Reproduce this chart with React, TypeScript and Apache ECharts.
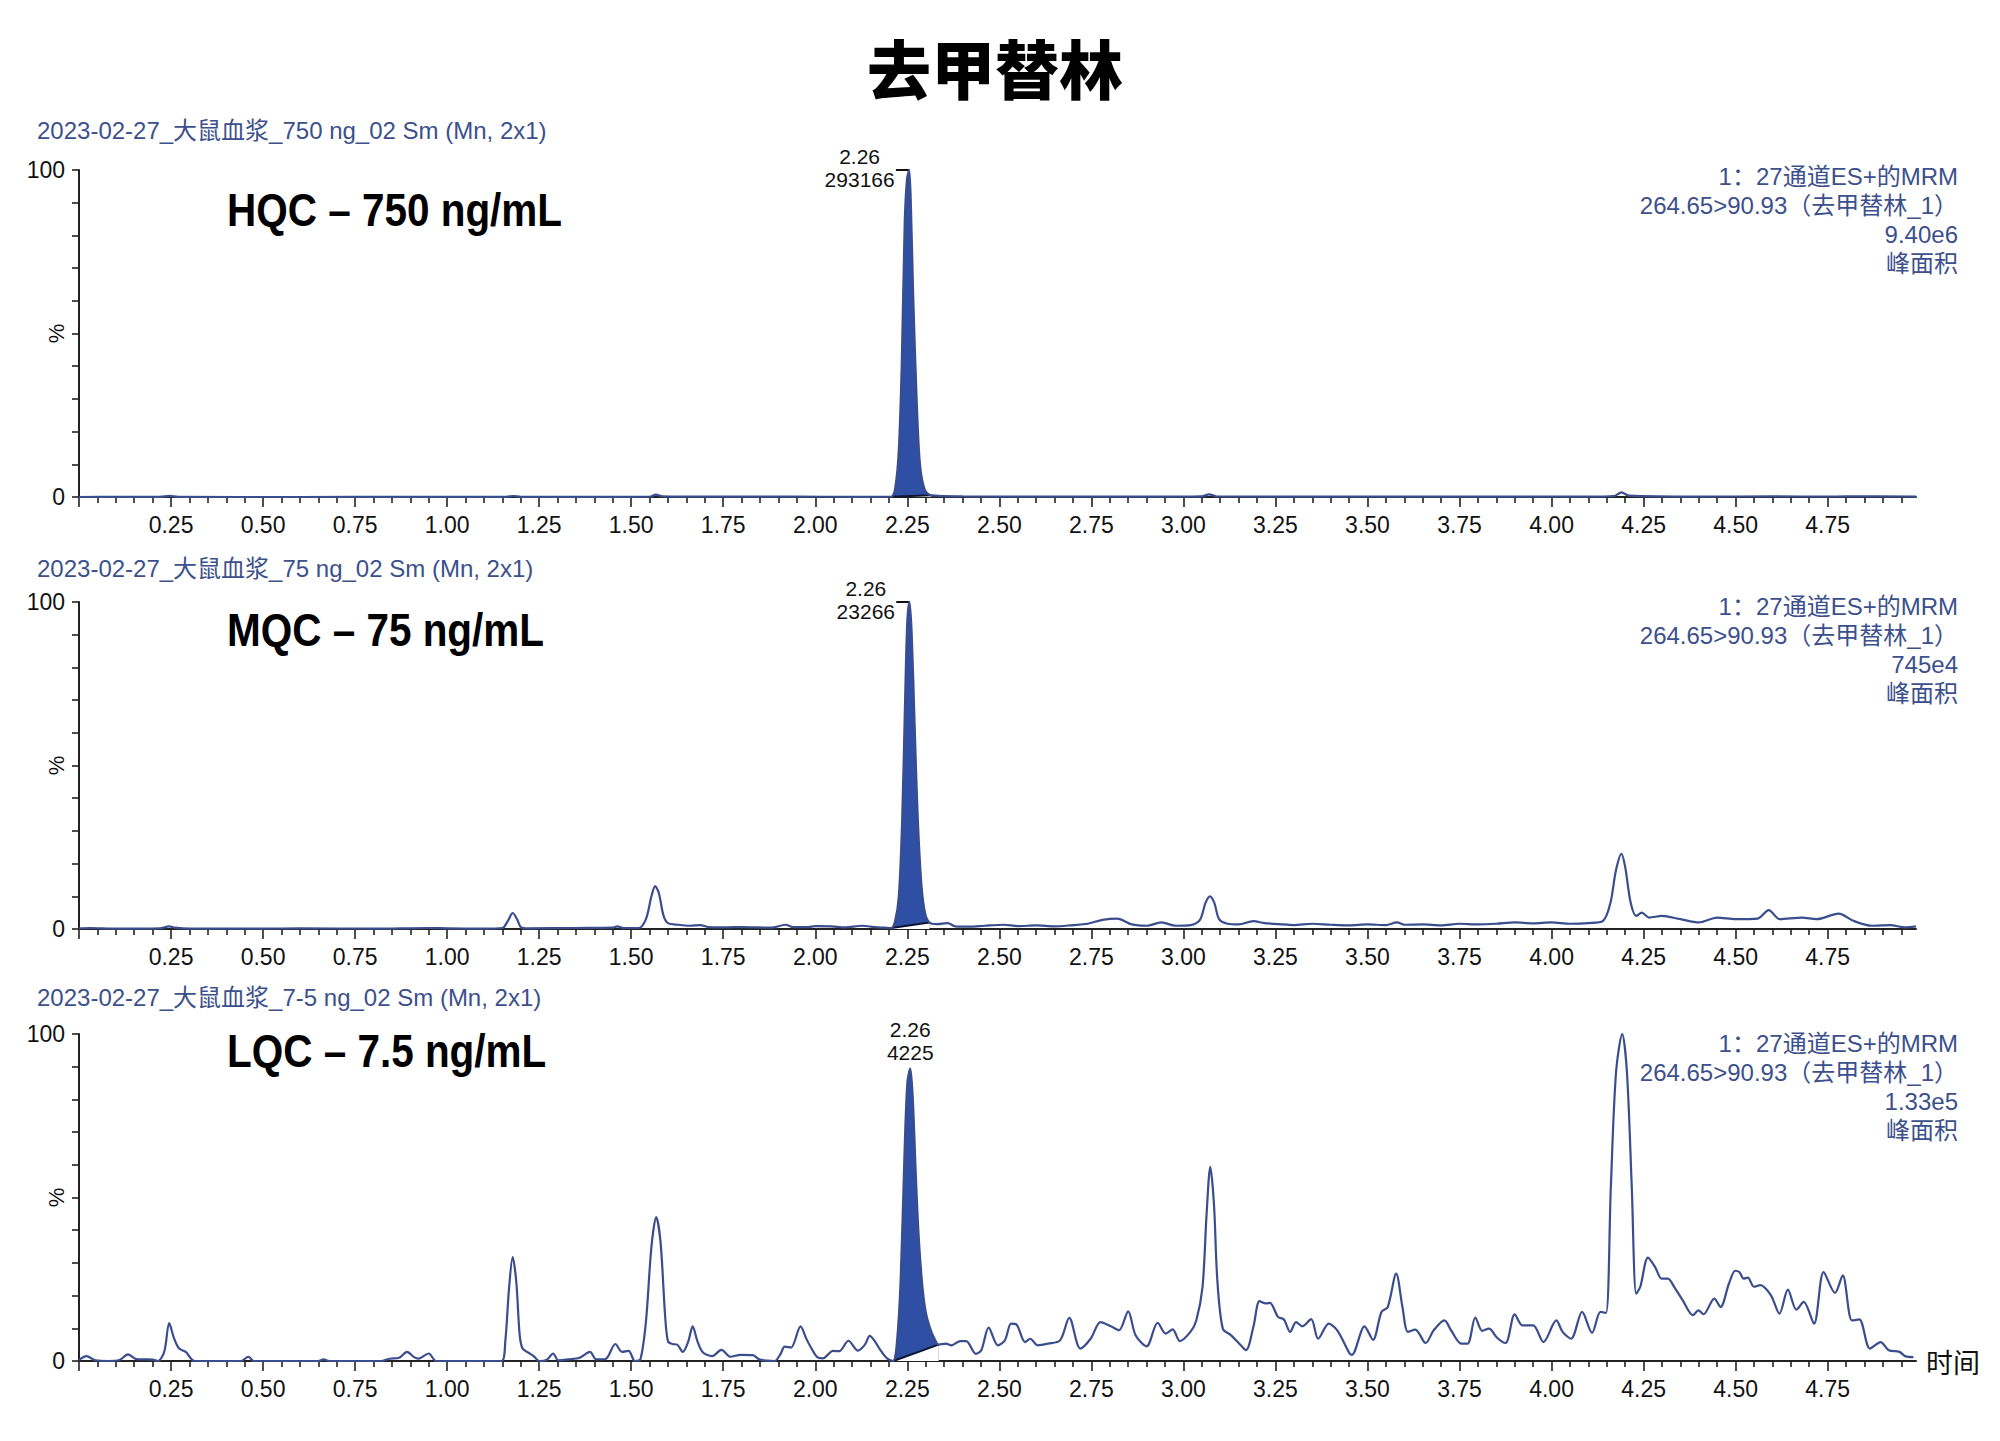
import React, { useEffect, useRef } from 'react';
import * as echarts from 'echarts';

const chartTitle = '去甲替林';
const panelHeaders = [
  '2023-02-27_大鼠血浆_750 ng_02 Sm (Mn, 2x1)',
  '2023-02-27_大鼠血浆_75 ng_02 Sm (Mn, 2x1)',
  '2023-02-27_大鼠血浆_7-5 ng_02 Sm (Mn, 2x1)',
];
const panelLabels = ['HQC – 750 ng/mL', 'MQC – 75 ng/mL', 'LQC – 7.5 ng/mL'];
const channelLine1 = '1：27通道ES+的MRM';
const channelLine2 = '264.65>90.93（去甲替林_1）';
const peakAreaTexts = ['9.40e6', '745e4', '1.33e5'];
const areaUnitText = '峰面积';
const peakRtTexts = ['2.26', '2.26', '2.26'];
const peakHeightTexts = ['293166', '23266', '4225'];
const peakWindows: [number, number][] = [
  [2.207, 2.315],
  [2.207, 2.31],
  [2.212, 2.335],
];
const xTickValues = [0.25, 0.5, 0.75, 1.0, 1.25, 1.5, 1.75, 2.0, 2.25, 2.5, 2.75, 3.0, 3.25, 3.5, 3.75, 4.0, 4.25, 4.5, 4.75];
const xAxisName = '时间';
const yAxisName = '%';

const hqcTrace: [number, number][] = [
  [0, 0], [0.1, 0.05], [0.22, 0.05], [0.245, 0.35], [0.27, 0.05], [0.6, 0], [0.9, 0.05], [1.16, 0.05],
  [1.18, 0.3], [1.2, 0.05], [1.45, 0.05], [1.55, 0.1], [1.567, 0.7], [1.585, 0.2], [1.7, 0.1], [1.95, 0.1],
  [2.1, 0.05], [2.207, 0.1], [2.218, 3.4], [2.227, 14.5], [2.235, 41], [2.243, 84], [2.249, 97], [2.255, 100],
  [2.26, 88], [2.266, 61.5], [2.275, 31], [2.284, 10.5], [2.297, 2.3], [2.315, 0.5], [2.4, 0.2], [2.6, 0.1],
  [2.9, 0.1], [3.05, 0.2], [3.07, 0.8], [3.09, 0.2], [3.4, 0.1], [3.8, 0.1], [4.1, 0.1], [4.17, 0.3],
  [4.19, 1.4], [4.21, 0.4], [4.4, 0.1], [4.6, 0.2], [4.75, 0.1], [4.8, 0.2], [4.99, 0.1],
];

const mqcTrace: [number, number][] = [
  [0, 0.2], [0.03, 0.3], [0.1, 0.1], [0.22, 0.2], [0.245, 0.8], [0.26, 0.4], [0.3, 0.1], [0.5, 0.1],
  [0.6, 0.2], [0.8, 0.1], [0.95, 0.3], [1.0, 0.2], [1.1, 0.1], [1.15, 0.3], [1.165, 2.5], [1.178, 4.9],
  [1.19, 3], [1.2, 0.6], [1.22, 0.2], [1.35, 0.3], [1.45, 0.4], [1.462, 0.8], [1.48, 0.3], [1.52, 0.3],
  [1.54, 3], [1.555, 10], [1.565, 13.1], [1.575, 11], [1.588, 4], [1.6, 1.8], [1.628, 1.3], [1.66, 1.0],
  [1.687, 1.2], [1.71, 0.6], [1.76, 0.5], [1.8, 0.6], [1.88, 0.4], [1.92, 1.3], [1.94, 0.6], [1.98, 0.6],
  [2.0, 0.9], [2.045, 0.8], [2.08, 0.5], [2.128, 1.0], [2.16, 0.6], [2.19, 0.4], [2.207, 0.3], [2.217, 2.5],
  [2.227, 10], [2.236, 33], [2.244, 70], [2.25, 94], [2.256, 100], [2.262, 90], [2.27, 62], [2.278, 35],
  [2.288, 14], [2.298, 5], [2.31, 2], [2.33, 1.5], [2.36, 1.8], [2.38, 0.8], [2.42, 0.7], [2.46, 1],
  [2.512, 1.3], [2.55, 0.9], [2.6, 1.1], [2.65, 0.8], [2.7, 1.2], [2.74, 1.6], [2.78, 2.8], [2.82, 3.2],
  [2.86, 1.4], [2.9, 1.0], [2.94, 2.0], [2.98, 1.0], [3.02, 1.2], [3.045, 2.8], [3.06, 8], [3.072, 10],
  [3.084, 8], [3.097, 3], [3.12, 1.6], [3.15, 1.4], [3.19, 2.4], [3.22, 1.8], [3.26, 1.5], [3.3, 1.2],
  [3.35, 1.6], [3.4, 1.3], [3.45, 1.1], [3.5, 1.4], [3.55, 1.2], [3.58, 2.0], [3.6, 1.3], [3.65, 1.4],
  [3.7, 1.1], [3.75, 1.6], [3.8, 1.4], [3.85, 1.6], [3.9, 2.0], [3.95, 1.7], [4.0, 2.0], [4.05, 1.6],
  [4.1, 1.8], [4.14, 2.5], [4.16, 8], [4.175, 18], [4.19, 23], [4.2, 19], [4.215, 8], [4.23, 4],
  [4.245, 5], [4.265, 3.5], [4.3, 4], [4.35, 3], [4.4, 2], [4.45, 3.5], [4.5, 3], [4.56, 3.2],
  [4.59, 5.8], [4.62, 3], [4.68, 3.5], [4.72, 3], [4.78, 4.7], [4.82, 2.5], [4.87, 1], [4.92, 1.2],
  [4.96, 0.5], [4.99, 0.8],
];

const lqcTrace: [number, number][] = [
  [0.0, 0.3], [0.02, 1.5], [0.045, 0.2], [0.08, 0], [0.11, 0.3], [0.133, 2.0], [0.155, 0.6], [0.18, 0.5],
  [0.2, 0.4], [0.215, 0], [0.232, 3], [0.245, 11.6], [0.258, 7], [0.272, 3.8], [0.29, 2.8], [0.314, 0],
  [0.44, 0], [0.46, 1.3], [0.475, 0], [0.65, 0], [0.664, 0.5], [0.68, 0], [0.82, 0], [0.843, 0.7],
  [0.87, 1.0], [0.891, 2.8], [0.91, 1.2], [0.922, 0.7], [0.95, 2.3], [0.97, 0], [1.1, 0], [1.148, 0],
  [1.158, 6], [1.168, 22], [1.178, 31.8], [1.188, 24], [1.197, 8], [1.205, 3.8], [1.22, 2.6], [1.235, 1.5],
  [1.25, 0], [1.27, 0.3], [1.288, 2.3], [1.302, 0.2], [1.33, 0.5], [1.36, 1.0], [1.388, 2.8], [1.405, 0.5],
  [1.43, 0.6], [1.457, 5.2], [1.475, 2.8], [1.493, 3.1], [1.51, 0], [1.525, 0.5], [1.54, 12], [1.555, 35],
  [1.568, 44], [1.58, 36], [1.592, 14], [1.6, 6], [1.612, 5.2], [1.625, 5], [1.64, 2.8], [1.655, 6],
  [1.667, 10.6], [1.68, 6], [1.695, 2.6], [1.72, 1.5], [1.745, 3.4], [1.77, 1.3], [1.797, 1.9], [1.83, 1.8],
  [1.848, 0.5], [1.87, 0.1], [1.89, 0], [1.905, 2], [1.917, 4.4], [1.934, 4.1], [1.96, 10.6], [1.975, 7],
  [1.986, 4.6], [2.005, 1.2], [2.021, 0.8], [2.035, 2], [2.047, 3.1], [2.065, 3], [2.09, 6.2], [2.116, 3.2],
  [2.135, 5], [2.148, 7.7], [2.162, 6], [2.176, 3.5], [2.195, 0.8], [2.212, 0], [2.222, 6], [2.232, 25],
  [2.242, 62], [2.25, 85], [2.258, 89.5], [2.265, 80], [2.272, 60], [2.28, 40], [2.29, 24], [2.3, 15],
  [2.312, 10], [2.323, 7], [2.335, 5], [2.355, 5.3], [2.37, 4.8], [2.394, 6.1], [2.41, 6.1], [2.436, 2.2],
  [2.451, 3.3], [2.471, 10.2], [2.496, 4.8], [2.515, 6.3], [2.532, 11.4], [2.546, 11.2], [2.57, 5.8], [2.584, 6.8],
  [2.604, 4.8], [2.632, 5.3], [2.665, 6.3], [2.69, 13.2], [2.72, 3.8], [2.748, 6.8], [2.775, 11.9], [2.803, 10.6],
  [2.825, 9.4], [2.85, 15.2], [2.87, 7.9], [2.9, 4.5], [2.93, 11.7], [2.952, 8.4], [2.971, 9.7], [2.99, 6.1],
  [3.019, 8.9], [3.035, 12.4], [3.052, 22.7], [3.063, 45], [3.073, 59.4], [3.083, 48], [3.092, 25], [3.107, 9.9],
  [3.129, 7.9], [3.152, 5.3], [3.17, 3.3], [3.19, 10.4], [3.207, 18.3], [3.224, 17.6], [3.235, 17.8], [3.257, 13.5],
  [3.273, 12.7], [3.29, 8.9], [3.306, 11.9], [3.323, 10.6], [3.347, 12.8], [3.366, 6.8], [3.395, 11.4], [3.418, 9.4],
  [3.452, 2.2], [3.458, 1.9], [3.492, 10.6], [3.515, 6.5], [3.538, 15], [3.555, 16.5], [3.578, 26.7], [3.595, 16.5],
  [3.61, 8.9], [3.63, 9.6], [3.658, 5.5], [3.68, 9.4], [3.709, 12.4], [3.727, 9.4], [3.755, 5.3], [3.772, 5.3],
  [3.793, 13.3], [3.812, 9.2], [3.83, 9.9], [3.852, 7.1], [3.875, 5.5], [3.9, 14.3], [3.921, 10.9], [3.95, 10.9],
  [3.978, 5.8], [4.013, 12.4], [4.03, 8.9], [4.053, 6.8], [4.083, 15], [4.11, 8.6], [4.133, 15], [4.148, 14.7],
  [4.161, 53], [4.175, 88], [4.192, 100], [4.205, 88], [4.218, 53], [4.23, 20.6], [4.241, 22.7], [4.262, 31.6],
  [4.281, 28.8], [4.299, 25.2], [4.316, 25.2], [4.333, 22.7], [4.356, 18.6], [4.384, 14], [4.399, 15.5], [4.413, 14.3],
  [4.442, 19.1], [4.459, 16.5], [4.482, 23.7], [4.499, 27.6], [4.51, 27.2], [4.522, 25.2], [4.533, 25.5], [4.55, 22.7],
  [4.567, 23.2], [4.596, 20.1], [4.619, 14.5], [4.642, 21.8], [4.665, 15.7], [4.685, 18.1], [4.713, 11.4], [4.739, 27.2],
  [4.77, 20.8], [4.791, 26.2], [4.816, 12.4], [4.836, 12.7], [4.865, 3.8], [4.894, 5.8], [4.916, 3.3], [4.945, 2.8],
  [4.962, 1.4], [4.983, 1.2],
];

const traces = [hqcTrace, mqcTrace, lqcTrace];

// layout & style
const W = 2000;
const H = 1441;
const gridLeft = 79;
const gridWidth = 1837;
const gridTops = [170, 602, 1034];
const gridHeight = 327;
const headerYs = [130, 568, 997];
const labelYs = [210, 630, 1051];
const annoTops = [176, 606, 1043];
const annoStep = 29;
const annoRight = 1958;
const blueText = '#3c508c';
const lineColor = '#3a4d8c';
const fillColor = '#2e4fa3';
const ink = '#111111';
const latin = '"Liberation Sans", Arial, "Noto Sans CJK SC", sans-serif';
const cjk = '"Noto Sans CJK SC", "Liberation Sans", sans-serif';

export default function App() {
  const ref = useRef<HTMLDivElement>(null);

  useEffect(() => {
    if (!ref.current) return;
    const chart = echarts.init(ref.current, undefined, { renderer: 'svg' });

    const grids: any[] = [];
    const xAxes: any[] = [];
    const yAxes: any[] = [];
    const series: any[] = [];
    const graphics: any[] = [];

    graphics.push({
      type: 'text', x: 995, y: 66,
      style: { text: chartTitle, fill: '#000', font: `900 64px ${cjk}`, align: 'center', verticalAlign: 'middle', textAlign: 'center', textVerticalAlign: 'middle' },
    });

    traces.forEach((trace, i) => {
      grids.push({ left: gridLeft, top: gridTops[i], width: gridWidth, height: gridHeight, containLabel: false });
      xAxes.push({
        type: 'value', gridIndex: i, min: 0, max: 4.99, interval: 0.25,
        name: i === 2 ? xAxisName : '',
        nameLocation: 'end', nameGap: 10,
        nameTextStyle: { color: ink, fontSize: 27, fontFamily: cjk, verticalAlign: 'middle' },
        axisLine: { show: true, onZero: false, lineStyle: { color: '#222', width: 2 } },
        axisTick: { show: true, inside: false, length: 10, customValues: [0].concat(xTickValues), lineStyle: { color: '#222', width: 1.6 } },
        minorTick: { show: true, splitNumber: 5, length: 6, lineStyle: { color: '#222', width: 1.6 } },
        axisLabel: {
          show: true, margin: 16, color: ink, fontSize: 23, fontFamily: latin,
          customValues: xTickValues,
          formatter: (v: number) => (xTickValues.some((t) => Math.abs(t - v) < 1e-6) ? v.toFixed(2) : ''),
        },
        splitLine: { show: false },
        minorSplitLine: { show: false },
      });
      yAxes.push({
        type: 'value', gridIndex: i, min: 0, max: 100, interval: 10,
        name: yAxisName, nameLocation: 'middle', nameGap: 12, nameRotate: 90, nameMoveOverlap: false,
        nameTextStyle: { color: ink, fontSize: 22, fontFamily: latin },
        axisLine: { show: true, lineStyle: { color: '#222', width: 2 } },
        axisTick: { show: true, inside: false, length: 7, lineStyle: { color: '#222', width: 1.6 } },
        axisLabel: {
          show: true, margin: 14, color: ink, fontSize: 23, fontFamily: latin,
          formatter: (v: number) => (v === 0 ? '0' : v === 100 ? '100' : ''),
        },
        splitLine: { show: false },
      });

      const [t0, t1] = peakWindows[i];
      const slice = trace.filter((p) => p[0] >= t0 - 1e-9 && p[0] <= t1 + 1e-9);
      const b0 = slice[0];
      const b1 = slice[slice.length - 1];
      const apex = slice.reduce((m, p) => (p[1] > m[1] ? p : m), slice[0]);

      // filled peak (to zero)
      series.push({
        type: 'line', xAxisIndex: i, yAxisIndex: i, data: slice, smooth: 0.3, symbol: 'none', z: 2,
        lineStyle: { width: 0 }, areaStyle: { color: fillColor, opacity: 1 }, silent: true,
      });
      // remove the part below the integration baseline
      series.push({
        type: 'custom', xAxisIndex: i, yAxisIndex: i, z: 3, silent: true, data: [[b0[0], 0]],
        renderItem: (_p: any, api: any) => {
          const p0 = api.coord(b0);
          const p1 = api.coord(b1);
          const p2 = api.coord([b1[0], 0]);
          const p3 = api.coord([b0[0], 0]);
          return { type: 'polygon', shape: { points: [p0, p1, p2, p3] }, style: { fill: '#ffffff' } };
        },
      });
      // baseline
      series.push({
        type: 'line', xAxisIndex: i, yAxisIndex: i, data: [b0, b1], symbol: 'none', z: 4, silent: true,
        lineStyle: { color: '#0d1530', width: 2 },
      });

      const longest = Math.max(peakRtTexts[i].length, peakHeightTexts[i].length);
      const blockW = longest * 0.556 * 21;
      const isTop = i === 2;
      series.push({
        type: 'line', xAxisIndex: i, yAxisIndex: i, data: trace, smooth: 0.3, symbol: 'none', z: 5,
        lineStyle: { color: lineColor, width: 2.2 },
        markPoint: {
          silent: true, symbol: 'circle', symbolSize: 1, itemStyle: { color: 'rgba(0,0,0,0)' },
          label: isTop
            ? { show: true, position: 'top', distance: 4, align: 'center', color: ink, fontSize: 21, lineHeight: 23, fontFamily: latin, formatter: () => `${peakRtTexts[i]}\n${peakHeightTexts[i]}` }
            : { show: true, position: 'left', distance: 14, align: 'center', offset: [-blockW / 2, -2], color: ink, fontSize: 21, lineHeight: 23, fontFamily: latin, formatter: () => `${peakRtTexts[i]}\n${peakHeightTexts[i]}` },
          data: [{ coord: apex }],
        },
        markLine: isTop
          ? undefined
          : {
              silent: true, symbol: 'none', label: { show: false },
              lineStyle: { color: ink, width: 2, type: 'solid' },
              data: [[{ coord: [apex[0] - 0.036, apex[1]] }, { coord: apex }]],
            },
      });

      graphics.push({
        type: 'text', x: 37, y: headerYs[i],
        style: { text: panelHeaders[i], fill: blueText, font: `24px ${latin}`, align: 'left', verticalAlign: 'middle', textAlign: 'left', textVerticalAlign: 'middle' },
      });
      graphics.push({
        type: 'text', x: 227, y: labelYs[i], scaleX: 0.88,
        style: { text: panelLabels[i], fill: '#000', font: `bold 46px ${latin}`, align: 'left', verticalAlign: 'middle', textAlign: 'left', textVerticalAlign: 'middle' },
      });
      const annoLines = [channelLine1, channelLine2, peakAreaTexts[i], areaUnitText];
      annoLines.forEach((txt, k) => {
        graphics.push({
          type: 'text', x: annoRight, y: annoTops[i] + k * annoStep,
          style: { text: txt, fill: blueText, font: `24px ${latin}`, align: 'right', verticalAlign: 'middle', textAlign: 'right', textVerticalAlign: 'middle' },
        });
      });
    });

    chart.setOption({
      animation: false,
      backgroundColor: '#ffffff',
      grid: grids,
      xAxis: xAxes,
      yAxis: yAxes,
      series,
      graphic: graphics,
    });

    return () => chart.dispose();
  }, []);

  return <div ref={ref} style={{ position: 'fixed', left: 0, top: 0, width: W, height: H }} />;
}
